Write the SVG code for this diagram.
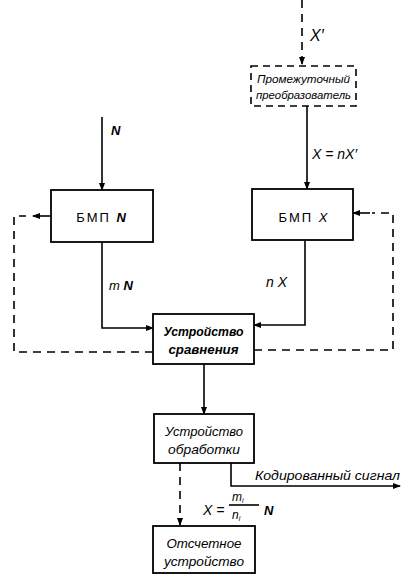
<svg xmlns="http://www.w3.org/2000/svg" width="403" height="575" viewBox="0 0 403 575">
<defs>
<marker id="ah" markerWidth="8" markerHeight="6" refX="7" refY="3" orient="auto" markerUnits="userSpaceOnUse">
<path d="M0,0 L8,3 L0,6 z" fill="#000"/>
</marker>
<style>
.box{fill:#fff;stroke:#000;stroke-width:1.8}
.dbox{fill:#fff;stroke:#000;stroke-width:1.6;stroke-dasharray:7,5}
.ln{fill:none;stroke:#000;stroke-width:1.6}
.dl{fill:none;stroke:#000;stroke-width:1.6;stroke-dasharray:8,6}
.t{font-family:"Liberation Sans",Arial,sans-serif;font-style:italic;font-size:13px;fill:#000}
.tb{font-family:"Liberation Sans",Arial,sans-serif;font-style:italic;font-weight:bold;font-size:13px;fill:#000}
.s{font-family:"Liberation Sans",Arial,sans-serif;font-style:italic;font-size:11px;fill:#000}
.m{font-family:"Liberation Sans",Arial,sans-serif;font-size:13px;fill:#000;letter-spacing:2px}
</style>
</defs>
<g id="connectors">
<path class="dl" d="M302,0 V64" marker-end="url(#ah)"/>
<path class="ln" d="M307,106 V189" marker-end="url(#ah)"/>
<path class="ln" d="M102,117 V190" marker-end="url(#ah)"/>
<path class="ln" d="M102,242 V328 H153" marker-end="url(#ah)"/>
<path class="ln" d="M305,240 V325 H254" marker-end="url(#ah)"/>
<path class="dl" d="M153,352 H14 V216 H26"/>
<path class="ln" d="M51,216 H33" marker-end="url(#ah)"/>
<path class="dl" d="M254,350 H393 V213 H372"/>
<path class="ln" d="M370,213 H353" marker-end="url(#ah)"/>
<path class="ln" d="M204,364 V414" marker-end="url(#ah)"/>
<path class="ln" d="M231,463 V486 H400" marker-end="url(#ah)"/>
<path class="dl" d="M180,463 V525" marker-end="url(#ah)"/>
</g>
<g id="labels">
<text class="t" x="310" y="41" style="font-size:16px">X′</text>
<text class="t" x="312" y="159" style="font-size:14px">X = nX′</text>
<text class="tb" x="111" y="135">N</text>
<text class="t" x="109" y="290">m <tspan font-weight="bold">N</tspan></text>
<text class="t" x="266" y="287" style="font-size:14px">n X</text>
<text class="t" x="255" y="480" textLength="145" lengthAdjust="spacingAndGlyphs">Кодированный сигнал</text>
<text class="t" x="203" y="515" style="font-size:14px">X =</text>
<text class="s" x="232" y="501" style="font-size:12px">m<tspan style="font-size:7px" dy="2">i</tspan></text>
<path class="ln" d="M229,505 H259" stroke-width="1"/>
<text class="s" x="232" y="519" style="font-size:12px">n<tspan style="font-size:7px" dy="2">i</tspan></text>
<text class="tb" x="264" y="515">N</text>
</g>
<g id="node-prom">
<rect class="dbox" x="251" y="66" width="105" height="40"/>
<text class="s" x="303.5" y="83" text-anchor="middle" textLength="93" lengthAdjust="spacingAndGlyphs">Промежуточный</text>
<text class="s" x="303.5" y="99" text-anchor="middle" textLength="95" lengthAdjust="spacingAndGlyphs">преобразователь</text>
</g>
<g id="node-bmpn">
<rect class="box" x="51" y="190" width="102" height="52"/>
<text class="m" x="102" y="222" text-anchor="middle">БМП <tspan font-style="italic" font-weight="bold">N</tspan></text>
</g>
<g id="node-bmpx">
<rect class="box" x="252" y="189" width="101" height="51"/>
<text class="m" x="304" y="222" text-anchor="middle">БМП <tspan font-style="italic">X</tspan></text>
</g>
<g id="node-compare">
<rect class="box" x="153" y="314" width="101" height="50"/>
<text class="tb" x="203.5" y="336" text-anchor="middle" textLength="80" lengthAdjust="spacingAndGlyphs">Устройство</text>
<text class="tb" x="203.5" y="354" text-anchor="middle" textLength="70" lengthAdjust="spacingAndGlyphs">сравнения</text>
</g>
<g id="node-process">
<rect class="box" x="154" y="414" width="100" height="49"/>
<text class="t" x="204" y="436" text-anchor="middle" textLength="78" lengthAdjust="spacingAndGlyphs">Устройство</text>
<text class="t" x="204" y="454" text-anchor="middle" textLength="72" lengthAdjust="spacingAndGlyphs">обработки</text>
</g>
<g id="node-readout">
<rect class="box" x="153" y="526" width="102" height="47"/>
<text class="t" x="204" y="548" text-anchor="middle" textLength="75" lengthAdjust="spacingAndGlyphs">Отсчетное</text>
<text class="t" x="204" y="566" text-anchor="middle" textLength="80" lengthAdjust="spacingAndGlyphs">устройство</text>
</g>
</svg>
